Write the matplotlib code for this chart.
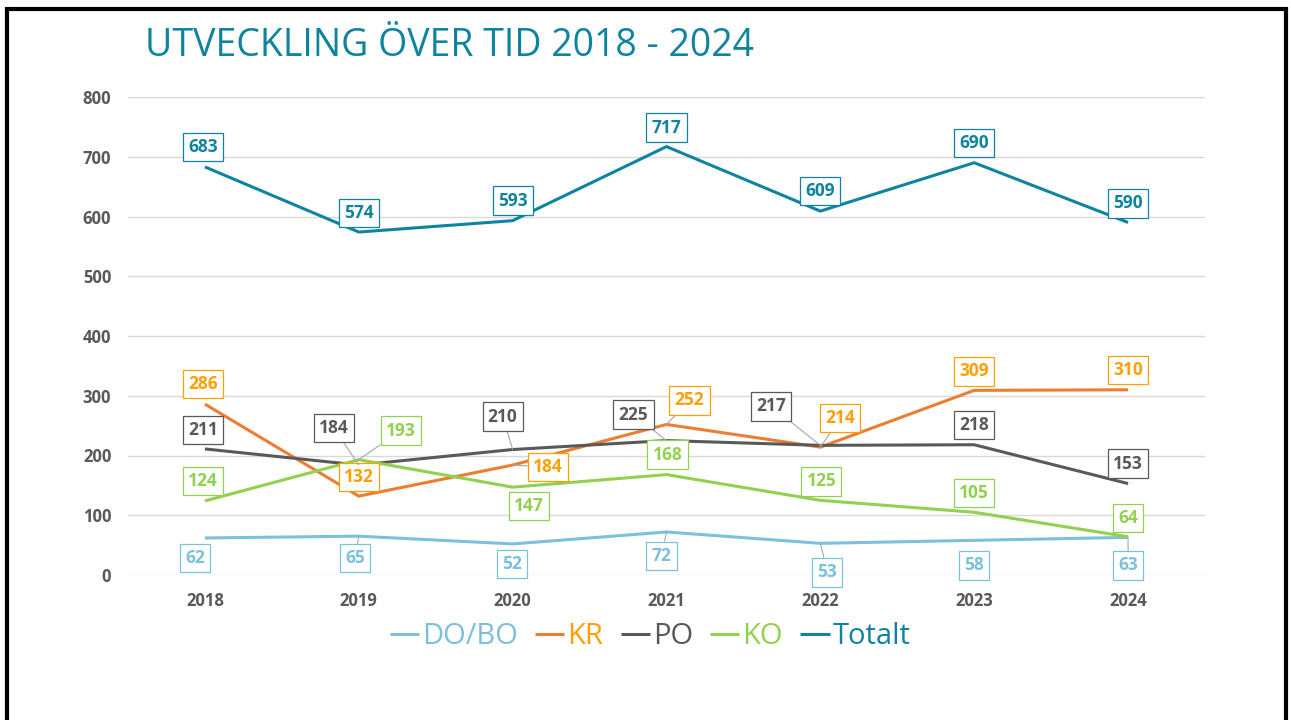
import matplotlib.pyplot as plt
from matplotlib.patches import Rectangle

years = ["2018", "2019", "2020", "2021", "2022", "2023", "2024"]
do_bo = [62, 65, 52, 72, 53, 58, 63]
kr = [286, 132, 184, 252, 214, 309, 310]
po = [211, 184, 210, 225, 217, 218, 153]
ko = [124, 193, 147, 168, 125, 105, 64]
totalt = [683, 574, 593, 717, 609, 690, 590]

series_names = ["DO/BO", "KR", "PO", "KO", "Totalt"]
series_values = [do_bo, kr, po, ko, totalt]
line_colors = ["#7DC0DC", "#ED7D31", "#595959", "#92D050", "#0F84A0"]
text_colors = ["#7DC0DC", "#FFA000", "#595959", "#92D050", "#0F84A0"]

# label offsets in pixels (dx, dy) and whether a leader line is drawn
offsets = {
    "DO/BO": [(-10, -20, 0), (-4, -22, 1), (-1, -20, 0), (-5, -24, 1), (7, -29, 1), (0, -25, 0), (0, -28, 1)],
    "KR": [(-2, 20, 0), (0, 19, 0), (35, -2, 1), (23, 24, 1), (20, 29, 1), (0, 19, 0), (0, 20, 0)],
    "PO": [(-2, 19, 0), (-25, 37, 1), (-10, 33, 1), (-33, 26, 1), (-49, 39, 1), (0, 20, 0), (0, 20, 0)],
    "KO": [(-2, 20, 0), (42, 29, 1), (16, -19, 0), (1, 20, 0), (1, 19, 0), (0, 19, 0), (0, 19, 0)],
    "Totalt": [(-2, 20, 0), (0, 19, 0), (0, 20, 0), (0, 19, 0), (0, 20, 0), (0, 20, 0), (0, 19, 0)],
}

plt.rcParams['font.family'] = ['Open Sans', 'DejaVu Sans']

fig = plt.figure(figsize=(12.91, 7.2), dpi=100)
ax = fig.add_axes([128 / 1291, 1 - 575 / 720, 1077 / 1291, 478 / 720])

x = list(range(len(years)))
for name, vals, lc, tc in zip(series_names, series_values, line_colors, text_colors):
    ax.plot(x, vals, color=lc, lw=2.2, label=name, solid_capstyle='butt', zorder=3)
    for i, v in enumerate(vals):
        dx, dy, lead = offsets[name][i]
        kw = {}
        if lead:
            kw['arrowprops'] = dict(arrowstyle='-', color='#A6A6A6', lw=0.8,
                                    shrinkA=0, shrinkB=0)
        ax.annotate(str(v), (i, v), xytext=(dx, dy), textcoords='offset pixels',
                    ha='center', va='center', fontsize=12.5, fontweight='bold',
                    color=tc, zorder=5,
                    bbox=dict(boxstyle='square,pad=0.3', fc='white', ec=tc, lw=0.9),
                    **kw)

ax.set_xlim(-0.5, 6.5)
ax.set_ylim(0, 800)
ax.set_yticks(range(0, 801, 100))
ax.set_xticks(x)
ax.set_xticklabels(years)
ax.grid(axis='y', color='#D9D9D9', lw=1)
ax.set_axisbelow(True)
for s in ax.spines.values():
    s.set_visible(False)
ax.tick_params(length=0, labelsize=12, labelcolor='#595959', pad=12)
for lab in ax.get_xticklabels() + ax.get_yticklabels():
    lab.set_fontweight('bold')

fig.text(145 / 1291, 1 - 46 / 720, "UTVECKLING ÖVER TID 2018 - 2024",
         fontsize=27, color='#0F84A0', ha='left', va='center')

leg = ax.legend(loc='center', bbox_to_anchor=(650 / 1291, 1 - 637 / 720),
                bbox_transform=fig.transFigure, ncol=5, frameon=False,
                fontsize=21, handlelength=1.0, handletextpad=0.1,
                columnspacing=0.6, labelcolor=text_colors)

fig.patches.append(Rectangle((6.5 / 1291, -0.05), (1286 - 6.5) / 1291, 1.05 - 8.5 / 720,
                             transform=fig.transFigure, fill=False, ec='black', lw=3))

fig.savefig("out.png", dpi=100)
